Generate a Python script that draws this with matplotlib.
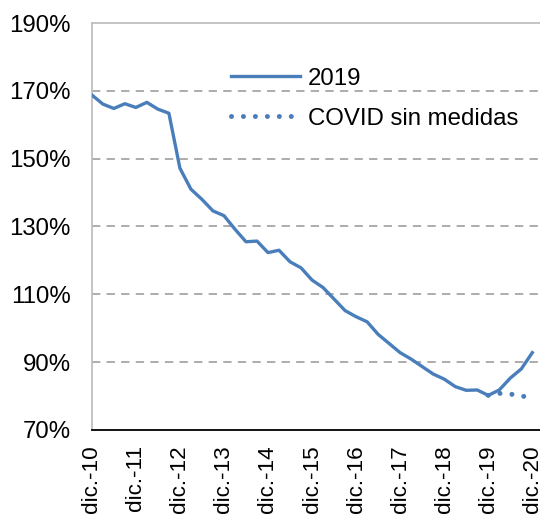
import matplotlib
matplotlib.use("Agg")
import matplotlib.pyplot as plt
import numpy as np

plt.rcParams['font.family'] = ['Liberation Sans', 'DejaVu Sans']
plt.rcParams['lines.scale_dashes'] = False

# Quarterly data, dic.-10 .. dic.-20
serie_2019 = [168.8, 166.1, 164.8, 166.2, 165.1, 166.6, 164.6, 163.4, 147.2, 141.0,
              138.0, 134.6, 133.2, 129.2, 125.5, 125.7, 122.3, 123.0, 119.6, 117.8,
              114.2, 112.0, 108.6, 105.2, 103.4, 101.9, 98.2, 95.5, 92.8, 90.9,
              88.7, 86.5, 85.0, 82.8, 81.7, 81.8, 80.2, 81.8, 85.3, 88.0, 92.8]
# COVID sin medidas: dic.-19 .. dic.-20
serie_covid = [80.2, 80.8, 80.6, 80.0, 79.6]
covid_start = 36

x_labels = ['dic.-10', 'dic.-11', 'dic.-12', 'dic.-13', 'dic.-14', 'dic.-15',
            'dic.-16', 'dic.-17', 'dic.-18', 'dic.-19', 'dic.-20']
y_ticks = [70, 90, 110, 130, 150, 170, 190]

color = '#4a7ebb'
fs = 17.3

fig = plt.figure(figsize=(5.4, 5.17), dpi=100)
ax = fig.add_axes([0.170, 0.1683, 0.830, 0.7872])

x = np.arange(len(serie_2019))
ax.plot(x, serie_2019, color=color, lw=2.4, solid_joinstyle='round', label='2019', zorder=3)
xc = np.arange(covid_start, covid_start + len(serie_covid))
ax.plot(xc, serie_covid, color=color, lw=3.6, linestyle=(0, (0.01, 8.6)),
        dash_capstyle='round', label='COVID sin medidas', zorder=2)

ax.set_xlim(0, 40.7)
ax.set_ylim(70, 190)
ax.set_yticks(y_ticks)
ax.set_yticklabels([f'{v}%' for v in y_ticks])
ax.set_xticks(np.arange(0, 41, 4))
ax.set_xticklabels(x_labels, rotation=90)

for v in y_ticks[1:-1]:
    ax.axhline(v, color='#a6a6a6', lw=1.3, dashes=(6, 4.5), zorder=1)

ax.tick_params(axis='both', length=0, colors='black')
ax.tick_params(axis='y', pad=15, labelsize=fs)
ax.tick_params(axis='x', pad=11, labelsize=16.2)

for s in ['left', 'top']:
    ax.spines[s].set_color('#bfbfbf')
    ax.spines[s].set_linewidth(1.3)
ax.spines['bottom'].set_color('black')
ax.spines['bottom'].set_linewidth(1.3)
ax.spines['right'].set_visible(False)

leg = ax.legend(loc='upper left', bbox_to_anchor=(0.31, 0.89), frameon=False,
                fontsize=fs, handlelength=2.9, handletextpad=0.32,
                labelspacing=0.75, borderpad=0, borderaxespad=0)

fig.savefig('out.png', dpi=100)
